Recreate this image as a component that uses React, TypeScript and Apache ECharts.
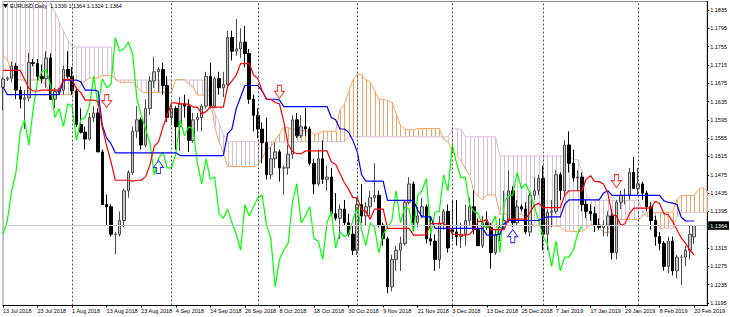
import React, { useEffect, useRef } from "react";
import * as echarts from "echarts";

// ---------- tick labels ----------
const xTickLabels = [
  "13 Jul 2018", "23 Jul 2018", "1 Aug 2018", "13 Aug 2018", "23 Aug 2018", "4 Sep 2018",
  "14 Sep 2018", "26 Sep 2018", "8 Oct 2018", "18 Oct 2018", "30 Oct 2018", "9 Nov 2018",
  "21 Nov 2018", "3 Dec 2018", "13 Dec 2018", "25 Dec 2018", "7 Jan 2019", "17 Jan 2019",
  "29 Jan 2019", "8 Feb 2019", "20 Feb 2019",
];
const yTickValues = [
  1.1195, 1.1235, 1.1275, 1.1315, 1.1355, 1.1395, 1.1435, 1.1475, 1.1515,
  1.1555, 1.1595, 1.1635, 1.1675, 1.1715, 1.1755, 1.1795, 1.1835,
];
// 1.1355 sits under the current-price box, so only its tick is drawn
const yLabelValues = [
  1.1195, 1.1235, 1.1275, 1.1315, 1.1395, 1.1435, 1.1475, 1.1515,
  1.1555, 1.1595, 1.1635, 1.1675, 1.1715, 1.1755, 1.1795, 1.1835,
];
const monthStarts = [16, 39, 59, 82, 104, 125, 147];
const lastPrice = 1.1364;
const headerText = "EURUSD,Daily  1.1339 1.1364 1.1324 1.1364";

// ---------- candles ----------
const opens = [
  1.1666,1.1684,1.1686,1.1712,1.1660,1.1640,1.1643,1.1720,1.1718,1.1690,
  1.1685,1.1730,1.1640,1.1657,1.1660,1.1705,1.1690,1.1658,1.1585,1.1568,
  1.1553,1.1600,1.1610,1.1525,1.1410,1.1405,1.1345,1.1345,1.1375,1.1440,
  1.1480,1.1570,1.1595,1.1540,1.1620,1.1680,1.1700,1.1705,1.1670,1.1600,
  1.1620,1.1580,1.1630,1.1625,1.1550,1.1595,1.1600,1.1625,1.1690,1.1625,
  1.1685,1.1665,1.1672,1.1775,1.1745,1.1750,1.1765,1.1740,1.1640,1.1605,
  1.1575,1.1545,1.1475,1.1510,1.1525,1.1490,1.1490,1.1520,1.1595,1.1560,
  1.1580,1.1575,1.1500,1.1455,1.1510,1.1465,1.1470,1.1390,1.1380,1.1400,
  1.1370,1.1345,1.1310,1.1410,1.1385,1.1405,1.1425,1.1430,1.1365,1.1335,
  1.1230,1.1290,1.1310,1.1325,1.1415,1.1455,1.1370,1.1385,1.1405,1.1335,
  1.1330,1.1290,1.1370,1.1395,1.1355,1.1350,1.1340,1.1345,1.1375,1.1405,
  1.1355,1.1320,1.1370,1.1360,1.1305,1.1345,1.1360,1.1375,1.1440,1.1370,
  1.1405,1.1400,1.1350,1.1430,1.1440,1.1467,1.1345,1.1393,1.1395,1.1475,
  1.1440,1.1540,1.1500,1.1468,1.1470,1.1410,1.1395,1.1390,1.1365,1.1360,
  1.1365,1.1385,1.1305,1.1415,1.1430,1.1430,1.1480,1.1445,1.1455,1.1435,
  1.1405,1.1375,1.1340,1.1325,1.1275,1.1330,1.1265,1.1295,1.1295,1.1310,
  1.1339,
];
const closes = [
  1.1684,1.1686,1.1712,1.1660,1.1640,1.1643,1.1720,1.1718,1.1690,1.1685,
  1.1730,1.1640,1.1657,1.1660,1.1705,1.1690,1.1658,1.1585,1.1568,1.1553,
  1.1600,1.1610,1.1525,1.1410,1.1405,1.1345,1.1345,1.1375,1.1440,1.1480,
  1.1570,1.1595,1.1540,1.1620,1.1680,1.1700,1.1705,1.1670,1.1600,1.1620,
  1.1580,1.1630,1.1625,1.1550,1.1595,1.1600,1.1625,1.1690,1.1625,1.1685,
  1.1665,1.1672,1.1775,1.1745,1.1750,1.1765,1.1740,1.1640,1.1605,1.1575,
  1.1545,1.1475,1.1510,1.1525,1.1490,1.1490,1.1520,1.1595,1.1560,1.1580,
  1.1575,1.1500,1.1455,1.1510,1.1465,1.1470,1.1390,1.1380,1.1400,1.1370,
  1.1345,1.1310,1.1410,1.1385,1.1405,1.1425,1.1430,1.1365,1.1335,1.1230,
  1.1290,1.1310,1.1325,1.1415,1.1455,1.1370,1.1385,1.1405,1.1335,1.1330,
  1.1290,1.1370,1.1395,1.1315,1.1350,1.1340,1.1345,1.1375,1.1405,1.1355,
  1.1320,1.1370,1.1360,1.1305,1.1345,1.1360,1.1375,1.1440,1.1370,1.1405,
  1.1400,1.1350,1.1430,1.1440,1.1467,1.1345,1.1393,1.1395,1.1475,1.1440,
  1.1540,1.1500,1.1468,1.1470,1.1410,1.1395,1.1390,1.1365,1.1360,1.1365,
  1.1385,1.1305,1.1415,1.1430,1.1430,1.1480,1.1445,1.1455,1.1435,1.1405,
  1.1375,1.1340,1.1325,1.1275,1.1330,1.1265,1.1295,1.1295,1.1310,1.1345,
  1.1364,
];
const lows = [
  1.1616,1.1680,1.1677,1.1640,1.1620,1.1575,1.1635,1.1712,1.1680,1.1675,
  1.1665,1.1638,1.1620,1.1650,1.1650,1.1685,1.1650,1.1580,1.1565,1.1530,
  1.1550,1.1590,1.1525,1.1410,1.1365,1.1340,1.1301,1.1340,1.1360,1.1425,
  1.1475,1.1555,1.1530,1.1535,1.1605,1.1665,1.1655,1.1650,1.1590,1.1585,
  1.1530,1.1527,1.1600,1.1525,1.1545,1.1570,1.1570,1.1620,1.1620,1.1620,
  1.1650,1.1645,1.1665,1.1725,1.1735,1.1730,1.1710,1.1630,1.1570,1.1555,
  1.1500,1.1465,1.1465,1.1490,1.1460,1.1432,1.1475,1.1510,1.1555,1.1555,
  1.1560,1.1495,1.1433,1.1450,1.1455,1.1440,1.1385,1.1375,1.1335,1.1365,
  1.1340,1.1300,1.1300,1.1370,1.1365,1.1385,1.1415,1.1360,1.1320,1.1216,
  1.1220,1.1265,1.1265,1.1320,1.1410,1.1357,1.1360,1.1380,1.1325,1.1320,
  1.1265,1.1270,1.1355,1.1305,1.1335,1.1320,1.1315,1.1320,1.1365,1.1345,
  1.1320,1.1315,1.1355,1.1270,1.1300,1.1330,1.1355,1.1370,1.1360,1.1365,
  1.1395,1.1345,1.1340,1.1420,1.1430,1.1310,1.1310,1.1360,1.1390,1.1420,
  1.1430,1.1480,1.1460,1.1440,1.1395,1.1380,1.1375,1.1350,1.1355,1.1340,
  1.1340,1.1290,1.1290,1.1400,1.1410,1.1420,1.1445,1.1430,1.1420,1.1395,
  1.1355,1.1320,1.1310,1.1265,1.1260,1.1255,1.1249,1.1234,1.1275,1.1290,
  1.1324,
];
const highs = [
  1.1688,1.1690,1.1723,1.1719,1.1668,1.1660,1.1742,1.1728,1.1728,1.1716,
  1.1745,1.1740,1.1665,1.1665,1.1713,1.1745,1.1710,1.1665,1.1620,1.1580,
  1.1610,1.1625,1.1620,1.1530,1.1432,1.1410,1.1350,1.1395,1.1445,1.1485,
  1.1580,1.1625,1.1600,1.1640,1.1690,1.1733,1.1710,1.1720,1.1690,1.1630,
  1.1625,1.1645,1.1650,1.1640,1.1610,1.1610,1.1630,1.1700,1.1720,1.1690,
  1.1700,1.1700,1.1790,1.1790,1.1815,1.1795,1.1800,1.1750,1.1650,1.1620,
  1.1590,1.1600,1.1535,1.1545,1.1530,1.1495,1.1540,1.1605,1.1610,1.1605,
  1.1621,1.1580,1.1510,1.1530,1.1550,1.1495,1.1490,1.1435,1.1410,1.1420,
  1.1390,1.1365,1.1425,1.1455,1.1415,1.1440,1.1500,1.1440,1.1370,1.1340,
  1.1300,1.1320,1.1340,1.1420,1.1470,1.1460,1.1405,1.1425,1.1410,1.1385,
  1.1345,1.1385,1.1400,1.1410,1.1420,1.1420,1.1370,1.1410,1.1425,1.1440,
  1.1380,1.1385,1.1395,1.1370,1.1355,1.1380,1.1440,1.1485,1.1450,1.1420,
  1.1410,1.1415,1.1440,1.1470,1.1475,1.1495,1.1400,1.1420,1.1485,1.1480,
  1.1550,1.1570,1.1530,1.1485,1.1480,1.1420,1.1410,1.1405,1.1380,1.1375,
  1.1395,1.1400,1.1420,1.1440,1.1445,1.1490,1.1514,1.1490,1.1460,1.1440,
  1.1415,1.1385,1.1350,1.1330,1.1340,1.1340,1.1300,1.1300,1.1320,1.1365,
  1.1364,
];

// ---------- Ichimoku lines ----------
const tenkan = [
  1.1703,1.1703,1.1703,1.1703,1.1703,1.1683,1.1664,1.1658,1.1658,1.1660,
  1.1660,1.1660,1.1660,1.1660,1.1683,1.1683,1.1683,1.1663,1.1655,1.1638,
  1.1638,1.1638,1.1635,1.1578,1.1538,1.1503,1.1463,1.1463,1.1463,1.1463,
  1.1461,1.1463,1.1463,1.1471,1.1496,1.1537,1.1547,1.1579,1.1604,1.1632,
  1.1632,1.1630,1.1630,1.1629,1.1623,1.1623,1.1608,1.1613,1.1623,1.1623,
  1.1623,1.1623,1.1668,1.1680,1.1693,1.1718,1.1718,1.1718,1.1693,1.1685,
  1.1658,1.1640,1.1640,1.1633,1.1630,1.1591,1.1541,1.1526,1.1521,1.1521,
  1.1527,1.1527,1.1527,1.1527,1.1527,1.1527,1.1503,1.1498,1.1478,1.1458,
  1.1443,1.1425,1.1425,1.1398,1.1395,1.1378,1.1400,1.1400,1.1400,1.1358,
  1.1358,1.1358,1.1358,1.1358,1.1358,1.1343,1.1343,1.1343,1.1345,1.1368,
  1.1368,1.1368,1.1368,1.1363,1.1345,1.1345,1.1343,1.1343,1.1345,1.1355,
  1.1373,1.1373,1.1378,1.1355,1.1355,1.1355,1.1355,1.1378,1.1378,1.1378,
  1.1378,1.1378,1.1393,1.1408,1.1413,1.1403,1.1403,1.1403,1.1403,1.1403,
  1.1430,1.1440,1.1440,1.1440,1.1440,1.1465,1.1473,1.1460,1.1460,1.1455,
  1.1435,1.1388,1.1385,1.1365,1.1368,1.1390,1.1402,1.1402,1.1402,1.1402,
  1.1402,1.1417,1.1412,1.1390,1.1387,1.1373,1.1355,1.1337,1.1325,1.1310,
  1.1300,
];
const kijun = [
  1.1667,1.1650,1.1650,1.1650,1.1650,1.1650,1.1650,1.1650,1.1650,1.1650,
  1.1650,1.1650,1.1650,1.1650,1.1682,1.1682,1.1682,1.1682,1.1678,1.1660,
  1.1660,1.1660,1.1658,1.1582,1.1555,1.1543,1.1523,1.1523,1.1523,1.1523,
  1.1523,1.1523,1.1523,1.1523,1.1523,1.1523,1.1523,1.1523,1.1523,1.1523,
  1.1523,1.1517,1.1517,1.1517,1.1517,1.1517,1.1517,1.1517,1.1517,1.1517,
  1.1517,1.1517,1.1565,1.1575,1.1620,1.1645,1.1670,1.1670,1.1670,1.1670,
  1.1658,1.1640,1.1640,1.1640,1.1638,1.1624,1.1624,1.1624,1.1624,1.1624,
  1.1624,1.1624,1.1624,1.1624,1.1624,1.1624,1.1600,1.1595,1.1575,1.1575,
  1.1568,1.1550,1.1525,1.1475,1.1461,1.1461,1.1461,1.1461,1.1461,1.1419,
  1.1419,1.1419,1.1419,1.1419,1.1419,1.1419,1.1398,1.1383,1.1383,1.1383,
  1.1358,1.1358,1.1358,1.1358,1.1358,1.1358,1.1358,1.1358,1.1358,1.1358,
  1.1358,1.1358,1.1343,1.1343,1.1343,1.1345,1.1368,1.1375,1.1375,1.1375,
  1.1375,1.1375,1.1375,1.1375,1.1375,1.1380,1.1383,1.1383,1.1383,1.1383,
  1.1410,1.1420,1.1420,1.1420,1.1420,1.1420,1.1420,1.1420,1.1420,1.1435,
  1.1440,1.1430,1.1430,1.1430,1.1430,1.1430,1.1430,1.1430,1.1430,1.1430,
  1.1430,1.1430,1.1430,1.1418,1.1415,1.1413,1.1410,1.1382,1.1374,1.1374,
  1.1374,
];
const senkouA = [
  1.1737,1.1725,1.1700,1.1684,1.1682,1.1682,1.1682,1.1682,1.1682,1.1682,
  1.1670,1.1650,1.1650,1.1650,1.1650,1.1650,1.1650,1.1660,1.1670,1.1680,
  1.1686,1.1686,1.1686,1.1692,1.1692,1.1692,1.1685,1.1677,1.1677,1.1677,
  1.1677,1.1667,1.1657,1.1654,1.1654,1.1655,1.1655,1.1655,1.1655,1.1655,
  1.1683,1.1683,1.1683,1.1673,1.1667,1.1649,1.1649,1.1649,1.1647,1.1580,
  1.1547,1.1523,1.1493,1.1493,1.1493,1.1493,1.1492,1.1493,1.1493,1.1497,
  1.1510,1.1530,1.1535,1.1551,1.1564,1.1578,1.1578,1.1574,1.1574,1.1573,
  1.1570,1.1570,1.1563,1.1565,1.1570,1.1570,1.1570,1.1570,1.1617,1.1628,
  1.1657,1.1682,1.1694,1.1694,1.1682,1.1678,1.1658,1.1640,1.1640,1.1637,
  1.1634,1.1608,1.1583,1.1575,1.1573,1.1573,1.1576,1.1576,1.1576,1.1576,
  1.1576,1.1576,1.1552,1.1547,1.1527,1.1517,1.1506,1.1488,1.1475,1.1437,
  1.1428,1.1420,1.1431,1.1431,1.1431,1.1389,1.1389,1.1389,1.1389,1.1389,
  1.1389,1.1381,1.1371,1.1363,1.1364,1.1376,1.1363,1.1363,1.1363,1.1361,
  1.1352,1.1352,1.1351,1.1351,1.1352,1.1357,1.1366,1.1366,1.1361,1.1349,
  1.1349,1.1350,1.1362,1.1377,1.1377,1.1377,1.1377,1.1377,1.1384,1.1392,
  1.1394,1.1392,1.1393,1.1393,1.1393,1.1393,1.1420,1.1430,1.1430,1.1430,
  1.1430,1.1443,1.1447,1.1440,
];
const senkouB = [
  1.1870,1.1870,1.1870,1.1870,1.1870,1.1870,1.1870,1.1870,1.1870,1.1870,
  1.1870,1.1850,1.1830,1.1810,1.1790,1.1770,1.1754,1.1754,1.1754,1.1754,
  1.1754,1.1754,1.1754,1.1754,1.1754,1.1754,1.1682,1.1682,1.1682,1.1682,
  1.1682,1.1682,1.1682,1.1682,1.1682,1.1682,1.1682,1.1682,1.1682,1.1682,
  1.1682,1.1682,1.1682,1.1682,1.1682,1.1682,1.1682,1.1682,1.1645,1.1610,
  1.1588,1.1564,1.1547,1.1547,1.1547,1.1547,1.1547,1.1547,1.1547,1.1547,
  1.1547,1.1547,1.1547,1.1547,1.1547,1.1547,1.1547,1.1547,1.1547,1.1547,
  1.1547,1.1547,1.1547,1.1547,1.1547,1.1547,1.1547,1.1547,1.1547,1.1547,
  1.1558,1.1558,1.1558,1.1558,1.1558,1.1558,1.1558,1.1558,1.1558,1.1558,
  1.1558,1.1558,1.1558,1.1558,1.1558,1.1558,1.1558,1.1558,1.1558,1.1558,
  1.1558,1.1558,1.1558,1.1558,1.1575,1.1575,1.1575,1.1558,1.1558,1.1558,
  1.1558,1.1558,1.1558,1.1558,1.1558,1.1516,1.1516,1.1516,1.1516,1.1516,
  1.1516,1.1516,1.1516,1.1516,1.1516,1.1516,1.1516,1.1516,1.1516,1.1516,
  1.1516,1.1516,1.1508,1.1508,1.1483,1.1433,1.1419,1.1419,1.1419,1.1419,
  1.1419,1.1419,1.1419,1.1419,1.1419,1.1419,1.1419,1.1419,1.1398,1.1383,
  1.1383,1.1383,1.1358,1.1358,1.1358,1.1358,1.1383,1.1393,1.1393,1.1393,
  1.1393,1.1393,1.1393,1.1393,
];
const chikouShift = 26;

// ---------- signal arrows [bar index, price] ----------
const downArrows = [[24, 1.1636], [64, 1.1656], [142, 1.1461]];
const upArrows = [[36, 1.1492], [118, 1.1341]];

const FONT = "Liberation Sans";

export default function App() {
  const ref = useRef<HTMLDivElement>(null);
  useEffect(() => {
    document.body.style.margin = "0";
    const chart = echarts.init(ref.current!, null, { renderer: "svg" });
    const nBars = senkouA.length;
    const cats = Array.from({ length: nBars }, (_, i) => String(i));
    const candles = opens.map((o, i) => [o, closes[i], lows[i], highs[i]]);
    const hatch = senkouA.map((a, i) => [i, a, senkouB[i]]);
    const chikou = closes.slice(chikouShift);
    const showLabel = (i: number) => i % 8 === 0 && i / 8 < xTickLabels.length;

    const option: any = {
      animation: false,
      backgroundColor: "#ffffff",
      grid: {
        left: 2, right: 19, top: 1.5, bottom: 11.5,
        show: true, borderColor: "#8a8a8a", borderWidth: 1, backgroundColor: "#ffffff",
      },
      graphic: [
        { type: "polygon", shape: { points: [[3, 4], [8, 4], [5.5, 8]] }, style: { fill: "#000" }, z: 100 },
        {
          type: "text", x: 10, y: 6,
          style: { text: headerText, fontSize: 5.5, fontFamily: FONT, fill: "#000", verticalAlign: "middle" },
          z: 100,
        },
      ],
      xAxis: {
        type: "category", data: cats, boundaryGap: false,
        axisLine: { show: true, lineStyle: { color: "#000", width: 1 } },
        axisTick: { show: true, interval: (i: number) => showLabel(i), length: 2, lineStyle: { color: "#000" } },
        axisLabel: {
          interval: (i: number) => showLabel(i),
          formatter: (_v: string, i: number) => xTickLabels[i / 8] ?? "",
          align: "left", fontSize: 5.5, fontFamily: FONT, color: "#000", margin: 2,
        },
        splitLine: { show: false },
      },
      yAxis: {
        type: "value", position: "right", min: 1.11893, max: 1.18536, scale: true,
        axisLine: { show: true, lineStyle: { color: "#000", width: 1 } },
        axisTick: { show: true, customValues: yTickValues, length: 2, lineStyle: { color: "#000" } },
        axisLabel: {
          customValues: yLabelValues, formatter: (v: number) => v.toFixed(4),
          fontSize: 5.5, fontFamily: FONT, color: "#000", margin: 3,
        },
        splitLine: { show: false },
      },
      series: [
        {
          type: "custom", name: "cloud", z: 1, clip: true, silent: true,
          data: hatch, encode: { x: 0, y: [1, 2] },
          renderItem: (_p: any, api: any) => {
            const i = api.value(0), a = api.value(1), b = api.value(2);
            const p1 = api.coord([i, a]);
            const p2 = api.coord([i, b]);
            const x = Math.round(p1[0]) + 0.5;
            return {
              type: "line",
              shape: { x1: x, y1: p1[1], x2: x, y2: p2[1] },
              style: { stroke: a >= b ? "#f4a460" : "#d8bfd8", lineWidth: 1 },
            };
          },
        },
        {
          type: "line", name: "Senkou B", data: senkouB, z: 2, symbol: "none", silent: true,
          lineStyle: { color: "#d8bfd8", width: 1 },
          markLine: {
            silent: true, symbol: "none", animation: false, precision: 4,
            data: [
              ...monthStarts.map((m) => ({
                xAxis: m, label: { show: false },
                lineStyle: { color: "#505050", type: [2, 2], width: 1 },
              })),
              {
                yAxis: lastPrice,
                lineStyle: { color: "#c8c8c8", type: "solid", width: 1 },
                label: {
                  show: true, position: "end", formatter: lastPrice.toFixed(4),
                  color: "#fff", backgroundColor: "#000", fontSize: 5.5, fontFamily: FONT,
                  padding: [1.5, 2, 1, 2], distance: 1,
                },
              },
            ],
          },
        },
        {
          type: "line", name: "Senkou A", data: senkouA, z: 2, symbol: "none", silent: true,
          lineStyle: { color: "#f4a460", width: 1 },
        },
        {
          type: "candlestick", name: "EURUSD", data: candles, z: 3, barWidth: 3, silent: true,
          itemStyle: {
            color: "#c8c8c8", borderColor: "#4a4a4a",
            color0: "#000000", borderColor0: "#000000", borderWidth: 1,
          },
        },
        {
          type: "line", name: "Chikou", data: chikou, z: 4, symbol: "none", silent: true,
          lineStyle: { color: "#00ff00", width: 1.2 },
        },
        {
          type: "line", name: "Kijun", data: kijun, z: 4, symbol: "none", silent: true,
          lineStyle: { color: "#0000ff", width: 1.2 },
        },
        {
          type: "line", name: "Tenkan", data: tenkan, z: 4, symbol: "none", silent: true,
          lineStyle: { color: "#ff0000", width: 1.2 },
        },
        {
          type: "scatter", name: "sell", data: downArrows, z: 5, silent: true,
          symbol: "path://M3,0L7,0L7,6L10,6L5,13L0,6L3,6Z", symbolSize: [10, 13],
          itemStyle: { color: "#ffffff", borderColor: "#ff0000", borderWidth: 1 },
        },
        {
          type: "scatter", name: "buy", data: upArrows, z: 5, silent: true,
          symbol: "path://M5,0L10,7L7,7L7,13L3,13L3,7L0,7Z", symbolSize: [10, 13],
          itemStyle: { color: "#ffffff", borderColor: "#0000ff", borderWidth: 1 },
        },
      ],
    };
    chart.setOption(option);
    return () => chart.dispose();
  }, []);
  return <div ref={ref} style={{ width: 730, height: 317 }} />;
}
